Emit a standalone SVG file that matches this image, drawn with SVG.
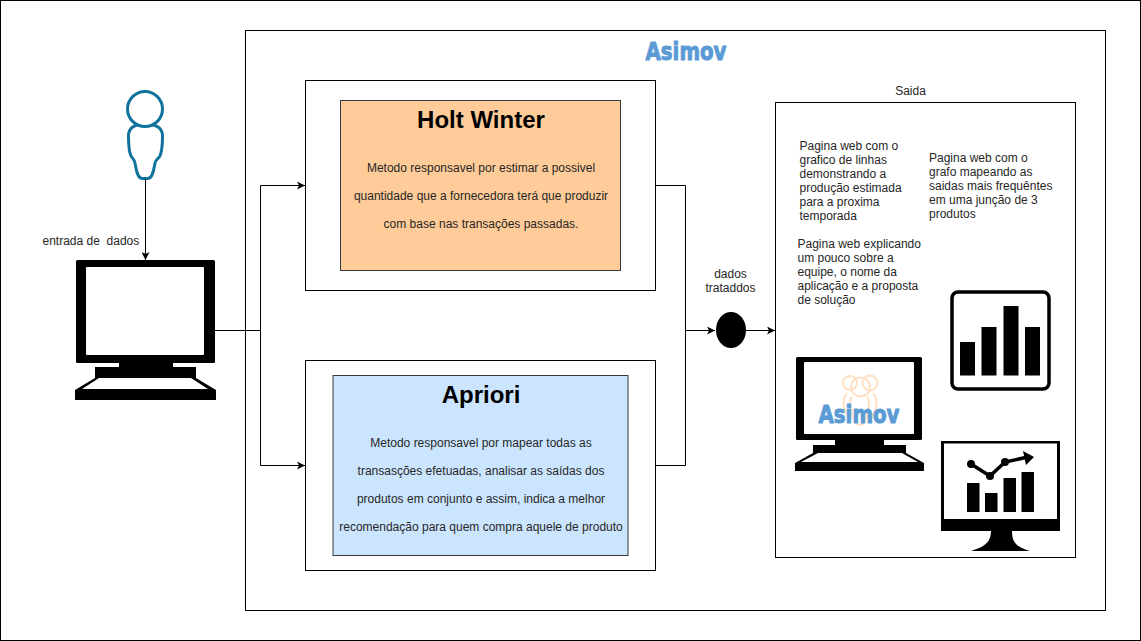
<svg xmlns="http://www.w3.org/2000/svg" width="1141" height="641" viewBox="0 0 1141 641">
<style>
.box{fill:#fff;stroke:#000;stroke-width:1}
.t{font-family:"Liberation Sans",Arial,sans-serif;font-size:12px;fill:#262626}
.c{text-anchor:middle}
.h{font-family:"Liberation Sans",Arial,sans-serif;font-size:24px;font-weight:bold;fill:#000;text-anchor:middle}
.logo{font-family:"DejaVu Sans",sans-serif;font-weight:bold;font-size:24px;fill:#5b9bd5;stroke:#5b9bd5;stroke-width:1;stroke-linejoin:round}
.wire{fill:none;stroke:#000;stroke-width:1}
.k{fill:#000}
.w{fill:#fff}
</style>
<defs>
<marker id="arrow" viewBox="0 0 8 8" refX="8" refY="4" markerWidth="8" markerHeight="8" orient="auto" markerUnits="userSpaceOnUse"><path d="M0 0L8 4L0 8L2 4Z" fill="#000"/></marker>
</defs>
<rect width="1141" height="641" fill="#fff"/>
<g id="frame"><rect class="box" x="0.5" y="0.5" width="1140" height="640"/></g>
<g id="asimov-system">
<rect class="box" x="245.5" y="30.5" width="860" height="580"/>
<text class="logo" x="645.500" y="59.500" textLength="81" lengthAdjust="spacingAndGlyphs">Asimov</text>
</g>
<g id="holt-winter">
<rect class="box" x="305.500" y="80.500" width="350" height="210"/>
<rect x="340.500" y="100.500" width="280" height="170" fill="#ffcc99" stroke="#36393d"/>
<text class="h" x="481" y="128">Holt Winter</text>
<text class="t c" x="481" y="172">Metodo responsavel por estimar a possivel</text>
<text class="t c" x="481" y="200">quantidade que a fornecedora terá que produzir</text>
<text class="t c" x="481" y="228">com base nas transações passadas.</text>
</g>
<g id="apriori">
<rect class="box" x="305.500" y="360.500" width="350" height="210"/>
<rect x="333" y="375.500" width="295" height="180" fill="#cce5ff" stroke="#36393d"/>
<text class="h" x="481" y="403">Apriori</text>
<text class="t c" x="481" y="447">Metodo responsavel por mapear todas as</text>
<text class="t c" x="481" y="475">transasções efetuadas, analisar as saídas dos</text>
<text class="t c" x="481" y="503">produtos em conjunto e assim, indica a melhor</text>
<text class="t c" x="481" y="531">recomendação para quem compra aquele de produto</text>
</g>
<g id="saida">
<rect class="box" x="775.500" y="102.500" width="300" height="455"/>
<text class="t c" x="910.500" y="95">Saida</text>
<text class="t"><tspan x="799.500" y="150">Pagina web com o</tspan><tspan x="799.500" y="164">grafico de linhas</tspan><tspan x="799.500" y="178">demonstrando a</tspan><tspan x="799.500" y="192">produção estimada</tspan><tspan x="799.500" y="206">para a proxima</tspan><tspan x="799.500" y="220">temporada</tspan></text>
<text class="t"><tspan x="929" y="162">Pagina web com o</tspan><tspan x="929" y="176">grafo mapeando as</tspan><tspan x="929" y="190">saidas mais frequêntes</tspan><tspan x="929" y="204">em uma junção de 3</tspan><tspan x="929" y="218">produtos</tspan></text>
<text class="t"><tspan x="797.500" y="248">Pagina web explicando</tspan><tspan x="797.500" y="262">um pouco sobre a</tspan><tspan x="797.500" y="276">equipe, o nome da</tspan><tspan x="797.500" y="290">aplicação e a proposta</tspan><tspan x="797.500" y="304">de solução</tspan></text>
</g>
<g id="usuario" fill="#fff" stroke="#10739e" stroke-width="3">
<path d="M145 124C137 124 128.500 126 128.500 136C128.500 146 129 152 131 156C133 159 134.500 160 135 163C136 168 137 178 142 178.500L148 178.500C153 178 154 168 155 163C155.500 160 158 159 160 156C162 151 162.500 146 162.500 136C162.500 126 153 124 145 124Z"/>
<circle cx="145" cy="109" r="17.500"/>
</g>
<g id="computador-entrada">
<rect class="k" x="76" y="260" width="139" height="103" rx="1.500"/>
<rect class="w" x="86" y="267" width="118" height="88" rx="1"/>
<rect class="k" x="119" y="362" width="54" height="6"/>
<path class="k" d="M95 367H196V378L216 390V400H75V390L95 378Z"/>
<path class="w" d="M99 378H191L208 389H82Z"/>
</g>
<g id="saida-bar-chart">
<rect x="952" y="292" width="97" height="97" rx="6" fill="#fff" stroke="#000" stroke-width="3.500"/>
<rect class="k" x="960" y="342" width="15" height="33.500"/>
<rect class="k" x="981.500" y="327" width="15" height="48.500"/>
<rect class="k" x="1003.500" y="306" width="15" height="69.500"/>
<rect class="k" x="1025" y="327" width="15" height="48.500"/>
</g>
<g id="saida-computador-asimov">
<rect class="k" x="796" y="357" width="126" height="83" rx="1.500"/>
<rect class="w" x="804" y="362" width="110" height="72" rx="1"/>
<rect class="k" x="835" y="439" width="49" height="7"/>
<path class="k" d="M813 445H906V453L924 463V471H795V463L813 453Z"/>
<path class="w" d="M818 453H902L918 462H801Z"/>
<g fill="none" stroke="#ffe0c2" stroke-width="2">
<circle cx="850" cy="383" r="7"/>
<circle cx="870" cy="383" r="7.500"/>
<circle cx="860.500" cy="387" r="9.500"/>
<path d="M847 393C843 397 843 402 844 408C845 412 848 414 849 419"/>
<path d="M873 393C877 397 877 402 876 408C875 412 872 414 871 419"/>
<path d="M852 397C849 400 850 408 852 413C854 420 855 425 860 425C864 425 866 420 867 413C869 408 870 400 867 397"/>
</g>
<text class="logo" x="818.500" y="423" textLength="81" lengthAdjust="spacingAndGlyphs">Asimov</text>
</g>
<g id="saida-monitor-chart">
<rect class="k" x="941" y="441" width="119" height="90"/>
<rect class="w" x="944" y="443.500" width="113" height="75.500"/>
<path class="k" d="M991 530H1012C1012 541 1014 546 1030 551H971C987 546 991 541 991 530Z"/>
<rect class="k" x="967" y="483" width="12.500" height="29"/>
<rect class="k" x="985" y="493" width="12.500" height="19"/>
<rect class="k" x="1003.500" y="478" width="12.500" height="34"/>
<rect class="k" x="1021.500" y="472" width="12.500" height="40"/>
<path d="M971 464L990 476L1005 462L1028 457" fill="none" stroke="#000" stroke-width="3.500"/>
<circle class="k" cx="971" cy="464" r="4"/>
<circle class="k" cx="990" cy="476" r="4"/>
<circle class="k" cx="1005" cy="462" r="4"/>
<path class="k" d="M1023 451L1034 457L1026 465Z"/>
</g>
<g id="dados-tratados">
<ellipse class="k" cx="731" cy="330" rx="15" ry="18"/>
<text class="t c" x="730.500" y="278">dados</text>
<text class="t c" x="730.500" y="292">trataddos</text>
</g>
<g id="connectors">
<path class="wire" d="M145.500 179V260" marker-end="url(#arrow)"/>
<path class="wire" d="M215 330.500H260.500V185.500H305" marker-end="url(#arrow)"/>
<path class="wire" d="M260.500 330.500V465.500H305" marker-end="url(#arrow)"/>
<path class="wire" d="M655.500 185.500H685.500V330.500H715" marker-end="url(#arrow)"/>
<path class="wire" d="M655.500 465.500H685.500V330.500"/>
<path class="wire" d="M746 330.500H775" marker-end="url(#arrow)"/>
<text class="t" x="42.500" y="245" xml:space="preserve">entrada de  dados</text>
</g>
</svg>
